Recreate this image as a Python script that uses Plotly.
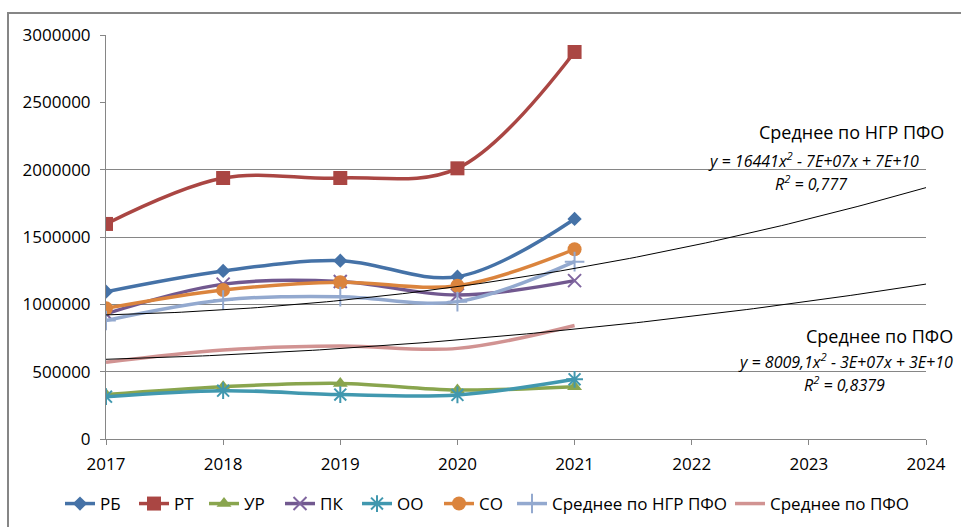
import numpy as np
import plotly.graph_objects as go

# Years and regional values
years = [2017, 2018, 2019, 2020, 2021]
rb = [1094000, 1248000, 1324000, 1205000, 1634000]
rt = [1597000, 1938000, 1938000, 2010000, 2874000]
ur = [330000, 388000, 413000, 364000, 388000]
pk = [930000, 1150000, 1170000, 1069000, 1176000]
oo = [314000, 359000, 330000, 327000, 443000]
so = [970000, 1106000, 1164000, 1138000, 1409000]
avg_ngr = [880000, 1032000, 1057000, 1020000, 1317000]
avg_pfo = [570000, 661000, 690000, 673000, 843000]

y_ticks = [0, 500000, 1000000, 1500000, 2000000, 2500000, 3000000]
grid_vals = [500000, 1000000, 1500000, 2000000]
x_ticks = [2017, 2018, 2019, 2020, 2021, 2022, 2023, 2024]
forecast_end = 2024

FONT = "Open Sans"
GRAY = "#868686"

W, H = 961, 527
L, R, T, B = 106, 35, 35, 88
pw, ph = W - L - R, H - T - B

def px_x(p):
    return (p - L) / pw

def px_y(p):
    return (H - B - p) / ph

# legend entry start positions (px) for each series
legend_px = [60, 134, 204, 280, 357, 439, 512, 730]

series = [
    ("РБ", rb, "#4572A7", dict(symbol="diamond", size=11)),
    ("РТ", rt, "#AA4643", dict(symbol="square", size=14)),
    ("УР", ur, "#89A54E", dict(symbol="triangle-up", size=13)),
    ("ПК", pk, "#71588F", dict(symbol="x-thin", size=13, line=dict(width=2, color="#7F659F"))),
    ("ОО", oo, "#4198AF", dict(symbol="asterisk", size=14, line=dict(width=2, color="#4198AF"))),
    ("СО", so, "#DB843D", dict(symbol="circle", size=14)),
    ("Среднее по НГР ПФО", avg_ngr, "#93A9CF", dict(symbol="cross-thin", size=14, line=dict(width=2, color="#93A9CF"))),
    ("Среднее по ПФО", avg_pfo, "#D19392", None),
]

fig = go.Figure()
legend_layout = {}

for i, (name, vals, color, marker) in enumerate(series):
    lg = "legend" if i == 0 else f"legend{i + 1}"
    legend_layout[lg] = dict(
        orientation="h", x=px_x(legend_px[i]), xanchor="left",
        y=px_y(504), yanchor="middle",
        font=dict(family=FONT, size=17), bgcolor="rgba(0,0,0,0)",
    )
    if marker is None:
        fig.add_trace(go.Scatter(
            x=years, y=vals, name=name, mode="lines", legend=lg,
            line=dict(color=color, width=3.5, shape="spline"),
        ))
    else:
        m = dict(marker)
        m.setdefault("color", color)
        fig.add_trace(go.Scatter(
            x=years, y=vals, name=name, mode="lines+markers", legend=lg,
            line=dict(color=color, width=3.5, shape="spline"),
            marker=m,
        ))

# Second-order polynomial trendlines with forecast to 2024
xs = np.linspace(years[0], forecast_end, 120)
for vals in (avg_ngr, avg_pfo):
    t = np.array(years) - 2019
    coef = np.polyfit(t, np.array(vals, dtype=float), 2)
    fig.add_trace(go.Scatter(
        x=xs, y=np.polyval(coef, xs - 2019), mode="lines",
        line=dict(color="black", width=1), showlegend=False, hoverinfo="skip",
    ))

# invisible carrier for the partial gridlines
fig.add_trace(go.Scatter(x=[years[0]], y=[0], yaxis="y2", mode="markers",
                         marker=dict(opacity=0), showlegend=False, hoverinfo="skip"))

fig.update_layout(
    width=W, height=H,
    margin=dict(l=L, r=R, t=T, b=B, autoexpand=False),
    paper_bgcolor="white", plot_bgcolor="white",
    font=dict(family=FONT, size=17, color="black"),
    xaxis=dict(
        range=[x_ticks[0], x_ticks[-1]], tickvals=x_ticks,
        ticktext=[str(v) for v in x_ticks],
        showgrid=False, zeroline=False, showline=True, linecolor=GRAY, linewidth=1,
        ticks="outside", ticklen=5, tickcolor=GRAY, ticklabelstandoff=5,
        tickfont=dict(family=FONT, size=17),
    ),
    yaxis=dict(
        range=[0, 3000000], tickvals=y_ticks, ticktext=[str(v) for v in y_ticks],
        showgrid=False, zeroline=False, showline=True, linecolor=GRAY, linewidth=1,
        ticks="outside", ticklen=5, tickcolor=GRAY, ticklabelstandoff=6,
        tickfont=dict(family=FONT, size=17),
    ),
    yaxis2=dict(
        range=[0, 3000000], overlaying="y", tickvals=grid_vals,
        showgrid=True, gridcolor=GRAY, gridwidth=1,
        showticklabels=False, zeroline=False, showline=False, ticks="",
    ),
    showlegend=True,
    **legend_layout,
)

# chart frame
fig.add_shape(type="rect", xref="paper", yref="paper",
              x0=px_x(8), x1=px_x(990), y0=px_y(560), y1=px_y(13),
              line=dict(color=GRAY, width=2), layer="below")

ann = [
    ("Среднее по НГР ПФО", 851, 132, dict(size=18), False),
    ("y = 16441x<sup>2</sup> - 7E+07x + 7E+10", 813, 160, dict(size=16), True),
    ("R<sup>2</sup> = 0,777", 811, 183, dict(size=16), True),
    ("Среднее по ПФО", 879, 336, dict(size=18), False),
    ("y = 8009,1x<sup>2</sup> - 3E+07x + 3E+10", 845, 361, dict(size=16), True),
    ("R<sup>2</sup> = 0,8379", 844, 384, dict(size=16), True),
]
for text, cx, cy, f, ital in ann:
    fig.add_annotation(
        text=f"<i>{text}</i>" if ital else text,
        xref="paper", yref="paper", x=px_x(cx), y=px_y(cy),
        xanchor="center", yanchor="middle", showarrow=False,
        font=dict(family=FONT, color="black", **f),
    )

fig.write_html("out.html")
